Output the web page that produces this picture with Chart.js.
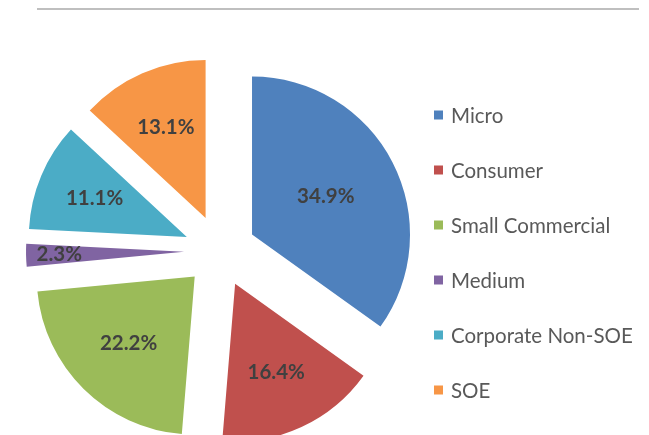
<!DOCTYPE html>
<html><head><meta charset="utf-8">
<script src="https://cdn.jsdelivr.net/npm/chart.js@4/dist/chart.umd.min.js"></script>
<style>
html,body{margin:0;padding:0;background:#fff;}
#wrap{position:relative;width:649px;height:435px;overflow:hidden;background:#fff;}
#topline{position:absolute;left:37px;top:8px;width:602px;height:2px;background:#bfbfbf;}
canvas{position:absolute;left:0;top:0;}
</style></head><body>
<div id="wrap"><canvas id="c" width="649" height="435"></canvas><div id="topline"></div></div>
<script>
const categories = ['Micro', 'Consumer', 'Small Commercial', 'Medium', 'Corporate Non-SOE', 'SOE'];
const shares = [34.9, 16.4, 22.2, 2.3, 11.1, 13.1];
const sliceColors = ['#4F81BD', '#C0504D', '#9BBB59', '#8064A2', '#4BACC6', '#F79646'];

const EXPLODE = 36;
const LABEL_FONT = 'bold 20.5px Lato, "Liberation Sans", sans-serif';
const LEGEND_FONT = '20.5px Lato, "Liberation Sans", sans-serif';

const explodePlugin = {
  id: 'explode',
  afterDatasetsUpdate(chart) {
    chart.getDatasetMeta(0).data.forEach(arc => {
      const mid = (arc.startAngle + arc.endAngle) / 2;
      arc.x += Math.cos(mid) * EXPLODE;
      arc.y += Math.sin(mid) * EXPLODE;
    });
  },
  afterDatasetsDraw(chart) {
    const ctx = chart.ctx;
    const meta = chart.getDatasetMeta(0);
    ctx.save();
    ctx.font = LABEL_FONT;
    ctx.fillStyle = '#404040';
    ctx.textAlign = 'center';
    ctx.textBaseline = 'middle';
    meta.data.forEach((arc, i) => {
      const mid = (arc.startAngle + arc.endAngle) / 2;
      const half = (arc.endAngle - arc.startAngle) / 2;
      let f = 0.97 * 2 * Math.sin(half) / (3 * half);
      if (half * 2 < 0.25) f = 0.79;
      const r = arc.outerRadius * f;
      const v = chart.data.datasets[0].data[i];
      ctx.fillText(v.toFixed(1) + '%', arc.x + Math.cos(mid) * r, arc.y + Math.sin(mid) * r);
    });
    ctx.restore();
  },
  afterDraw(chart) {
    const ctx = chart.ctx;
    ctx.save();
    ctx.font = LEGEND_FONT;
    ctx.textAlign = 'left';
    ctx.textBaseline = 'middle';
    chart.data.labels.forEach((lab, i) => {
      const y = 115 + i * 55;
      ctx.fillStyle = chart.data.datasets[0].backgroundColor[i];
      ctx.fillRect(434, y - 4.5, 9, 9);
      ctx.fillStyle = '#595959';
      ctx.fillText(lab, 451, y + 1);
    });
    ctx.restore();
  }
};

new Chart(document.getElementById('c'), {
  type: 'pie',
  data: {
    labels: categories,
    datasets: [{
      data: shares,
      backgroundColor: sliceColors,
      borderWidth: 0
    }]
  },
  options: {
    responsive: false,
    animation: false,
    radius: 158,
    layout: { padding: { left: 0, right: 209, top: 67, bottom: 0 } },
    plugins: {
      legend: { display: false },
      tooltip: { enabled: false }
    }
  },
  plugins: [explodePlugin]
});
</script>
</body></html>
